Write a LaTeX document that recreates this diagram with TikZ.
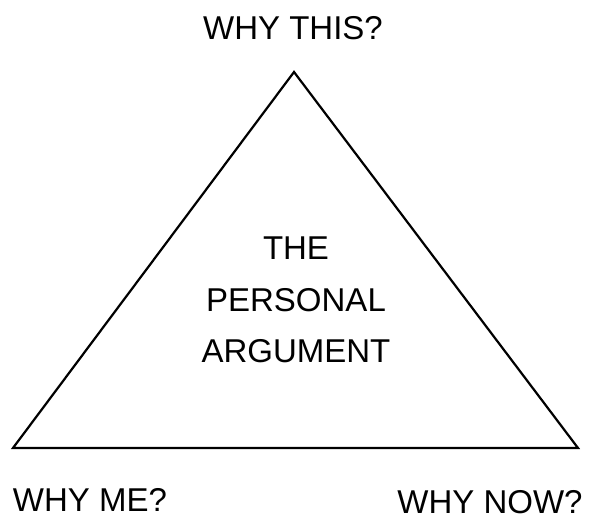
\documentclass[tikz,border=0pt]{standalone}
\usepackage{fontspec}
\setmainfont{Liberation Sans}
\begin{document}
\begin{tikzpicture}[x=1pt,y=-1pt,
  lbl/.style={inner sep=0pt,font=\fontsize{33}{51.5}\selectfont,align=center},
  edge/.style={draw=black,line width=2.2pt,line join=miter}]
\useasboundingbox[fill=white] (0,0) rectangle (592,518);
\coordinate (top) at (294,72);
\coordinate (bl) at (13,448);
\coordinate (br) at (578,448);
\draw[edge] (top) -- (bl) -- (br) -- cycle;
\node[lbl] (this) at (293,28.5) {WHY THIS?};
\node[lbl] (me) at (90,499.5) {WHY ME?};
\node[lbl] (now) at (490,502.5) {WHY NOW?};
\node[lbl] (center) at (296,300) {THE\\PERSONAL\\ARGUMENT};
\end{tikzpicture}
\end{document}
